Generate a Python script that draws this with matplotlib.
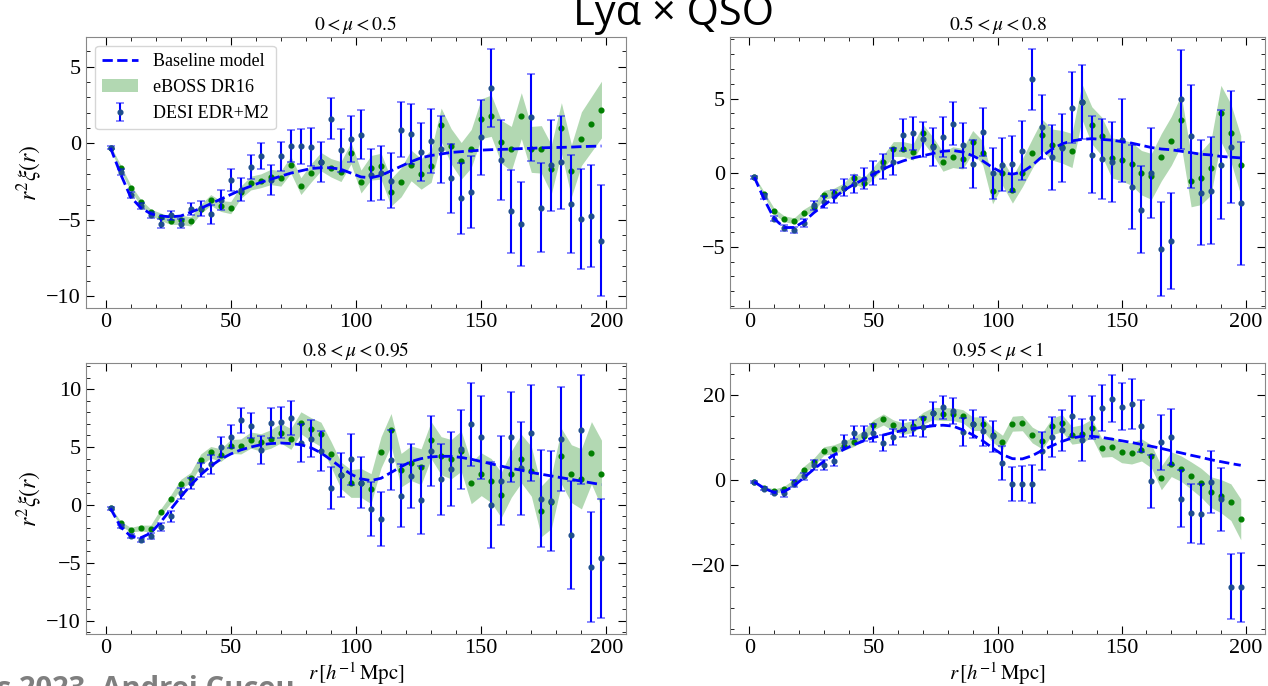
import matplotlib.pyplot as plt
from matplotlib.ticker import MultipleLocator, AutoMinorLocator

plt.rcParams['font.family'] = 'Liberation Serif'
plt.rcParams['mathtext.fontset'] = 'stix'

# separation bins (h^-1 Mpc)
r = list(range(2, 200, 4))

titles = [r'$0 < \mu < 0.5$', r'$0.5 < \mu < 0.8$', r'$0.8 < \mu < 0.95$', r'$0.95 < \mu < 1$']

# ---- 0 < mu < 0.5
desi1 = [-0.3, -1.9, -3.4, -4.1, -4.7, -5.25, -4.7, -5.25, -4.3, -4.25,
         -4.65, -3.7, -2.4, -3.05, -1.55, -0.85, -2.4, -0.85, -0.2, -0.2,
         -0.25, -1.25, 1.6, -0.45, 0.3, 0.55, -2.05, -1.95, -2.45, 0.87,
         0.6, -0.55, 0.15, -0.4, -2.3, -3.6, -3.15, 0.4, 3.6, -1.1,
         -4.45, -5.25, 1.7, -4.2, -1.45, -1.25, -3.95, -4.95, -4.75, -6.35]
desi1_err = [0.1, 0.2, 0.2, 0.2, 0.2, 0.3, 0.3, 0.3, 0.4, 0.5,
             0.6, 0.65, 0.7, 0.75, 0.8, 0.85, 1.0, 0.95, 1.05, 1.15,
             1.25, 1.3, 1.35, 1.4, 1.5, 1.6, 1.7, 1.75, 1.8, 1.8,
             1.95, 1.9, 2.1, 2.2, 2.25, 2.3, 2.35, 2.45, 2.55, 2.6,
             2.7, 2.75, 2.85, 2.9, 3.0, 3.05, 3.2, 3.25, 3.35, 3.6]
eboss1 = [-0.3, -1.6, -2.9, -3.85, -4.5, -4.8, -5.05, -5.0, -5.1, -4.3,
          -3.7, -4.1, -4.2, -3.2, -2.6, -2.45, -2.2, -2.3, -1.4, -2.8,
          -1.95, -1.2, -1.6, -1.85, -0.65, -2.5, -1.6, -1.5, -3.2, -2.55,
          -1.45, -2.0, -1.5, 1.2, -0.2, -1.15, -0.35, 1.6, 1.8, 0.1,
          -0.35, 1.8, -0.4, -0.4, -1.7, 1.0, -1.8, 0.3, 1.25, 2.2]
eboss1_err = [0.15, 0.2, 0.2, 0.2, 0.2, 0.25, 0.25, 0.3, 0.3, 0.3,
              0.35, 0.35, 0.4, 0.4, 0.45, 0.45, 0.5, 0.5, 0.55, 0.55,
              0.6, 0.6, 0.6, 0.65, 0.7, 0.75, 0.8, 0.85, 0.9, 0.95,
              1.0, 1.0, 1.05, 1.1, 1.15, 1.2, 1.25, 1.3, 1.35, 1.4,
              1.45, 1.5, 1.5, 1.55, 1.6, 1.65, 1.7, 1.75, 1.8, 1.85]
model1 = [-0.3, -2.0, -3.5, -4.2, -4.6, -4.75, -4.8, -4.75, -4.5, -4.25,
          -3.95, -3.65, -3.35, -3.05, -2.8, -2.55, -2.35, -2.15, -1.95, -1.8,
          -1.65, -1.6, -1.6, -1.7, -1.95, -2.2, -2.25, -2.1, -1.8, -1.5,
          -1.2, -0.95, -0.8, -0.7, -0.6, -0.55, -0.5, -0.45, -0.42, -0.4,
          -0.38, -0.35, -0.33, -0.3, -0.28, -0.27, -0.25, -0.22, -0.2, -0.18]

# ---- 0.5 < mu < 0.8
desi2 = [-0.3, -1.6, -3.1, -3.75, -3.85, -3.4, -2.2, -2.0, -1.6, -1.0,
         -0.75, -0.4, 0.0, 0.4, 0.75, 2.55, 2.65, 2.25, 1.75, 2.4,
         3.3, 1.85, 0.6, 2.75, -0.05, 0.55, 0.6, 1.5, 6.3, 3.1,
         1.05, 1.65, 4.4, 4.8, 1.2, 0.95, 0.7, 2.2, -0.95, -2.5,
         0.0, -5.15, -4.6, 4.95, 2.45, -1.35, -1.2, 0.55, 1.75, -2.05]
desi2_err = [0.1, 0.15, 0.15, 0.2, 0.2, 0.25, 0.3, 0.4, 0.45, 0.55,
             0.6, 0.7, 0.8, 0.85, 0.9, 1.05, 1.1, 1.2, 1.3, 1.35,
             1.45, 1.5, 1.6, 1.65, 1.75, 1.8, 1.9, 2.0, 2.05, 2.15,
             2.2, 2.3, 2.4, 2.5, 2.6, 2.7, 2.7, 2.8, 2.85, 2.95,
             3.05, 3.15, 3.25, 3.35, 3.45, 3.55, 3.6, 3.7, 3.8, 4.15]
eboss2 = [-0.3, -1.45, -2.6, -3.1, -3.25, -2.7, -2.3, -1.5, -1.35, -1.0,
          -0.35, -0.7, 0.0, 0.75, 1.6, 1.6, 1.4, 2.65, 1.8, 0.75,
          1.05, 0.95, 2.1, 1.35, -1.25, 0.0, -1.15, 0.0, 1.3, 2.55,
          1.9, 1.75, 1.5, 4.8, 3.2, 2.45, 1.0, 0.85, 0.6, 0.0,
          -0.25, 1.05, 2.15, 3.55, -0.55, -0.35, 0.35, 4.0, 2.7, 0.5]
eboss2_err = [0.1, 0.15, 0.2, 0.2, 0.2, 0.25, 0.25, 0.3, 0.3, 0.3,
              0.35, 0.35, 0.4, 0.45, 0.5, 0.5, 0.55, 0.6, 0.6, 0.65,
              0.7, 0.7, 0.75, 0.8, 0.85, 0.85, 0.9, 0.95, 1.0, 1.05,
              1.05, 1.1, 1.15, 1.2, 1.25, 1.3, 1.35, 1.4, 1.45, 1.5,
              1.55, 1.6, 1.65, 1.7, 1.75, 1.8, 1.85, 1.9, 1.95, 2.0]
model2 = [-0.3, -1.8, -3.1, -3.7, -3.7, -3.3, -2.7, -2.2, -1.7, -1.2,
          -0.8, -0.45, -0.1, 0.25, 0.55, 0.8, 1.0, 1.15, 1.3, 1.45,
          1.5, 1.4, 1.15, 0.8, 0.35, 0.0, -0.1, 0.05, 0.5, 1.1,
          1.6, 1.95, 2.15, 2.25, 2.3, 2.25, 2.2, 2.1, 2.0, 1.85,
          1.7, 1.6, 1.55, 1.45, 1.35, 1.25, 1.2, 1.1, 1.05, 1.0]

# ---- 0.8 < mu < 0.95
desi3 = [-0.3, -1.85, -2.7, -3.05, -2.7, -1.9, -1.0, 1.0, 1.85, 3.0,
         3.5, 5.0, 5.9, 7.3, 6.85, 4.75, 7.1, 7.15, 7.5, 5.35,
         5.7, 4.65, 1.45, 2.55, 3.95, 1.9, -0.35, -1.2, 3.85, 0.8,
         2.5, 0.45, 4.65, 2.2, 3.1, 4.8, 6.95, 5.85, 0.0, 2.1,
         5.85, 3.15, 6.2, 0.55, 0.35, 5.7, -2.6, 6.5, -5.35, -4.6]
desi3_err = [0.1, 0.15, 0.15, 0.2, 0.25, 0.35, 0.45, 0.45, 0.5, 0.6,
             0.8, 0.9, 1.0, 1.05, 1.1, 1.2, 1.3, 1.35, 1.45, 1.6,
             1.6, 1.7, 1.8, 1.9, 2.2, 2.2, 2.3, 2.35, 2.6, 2.7,
             2.8, 2.95, 3.05, 3.1, 3.2, 3.4, 3.55, 3.6, 3.7, 3.85,
             3.9, 4.05, 4.15, 4.2, 4.35, 4.5, 4.7, 4.7, 4.75, 5.15]
eboss3 = [-0.3, -1.6, -2.15, -2.0, -2.05, -0.65, 0.5, 1.8, 2.35, 3.9,
          4.55, 4.3, 5.05, 5.05, 5.6, 5.4, 5.7, 6.2, 5.7, 7.1,
          6.55, 6.1, 4.4, 2.55, 1.85, 1.9, 1.4, 4.55, 6.5, 3.0,
          3.6, 3.3, 5.6, 4.25, 3.95, 4.65, 1.9, 2.65, 2.1, 0.85,
          2.65, 4.0, 2.9, -0.55, 0.25, 4.2, 2.7, 2.25, 4.5, 2.7]
eboss3_err = [0.15, 0.2, 0.2, 0.25, 0.3, 0.3, 0.35, 0.4, 0.45, 0.5,
              0.5, 0.55, 0.6, 0.65, 0.7, 0.75, 0.8, 0.85, 0.9, 0.95,
              1.0, 1.05, 1.1, 1.15, 1.2, 1.25, 1.3, 1.35, 1.4, 1.45,
              1.5, 1.55, 1.6, 1.65, 1.7, 1.75, 1.8, 1.85, 1.9, 1.95,
              2.0, 2.1, 2.15, 2.2, 2.3, 2.4, 2.5, 2.6, 2.7, 2.9]
model3 = [-0.3, -1.9, -2.7, -2.85, -2.45, -1.5, -0.4, 0.7, 1.7, 2.6,
          3.35, 3.95, 4.4, 4.75, 5.0, 5.2, 5.3, 5.35, 5.3, 5.2,
          4.95, 4.5, 3.9, 3.25, 2.65, 2.25, 2.1, 2.3, 2.8, 3.3,
          3.75, 4.0, 4.15, 4.2, 4.2, 4.1, 3.95, 3.75, 3.55, 3.35,
          3.15, 3.0, 2.8, 2.65, 2.5, 2.35, 2.2, 2.05, 1.9, 1.75]

# ---- 0.95 < mu < 1
desi4 = [-0.45, -2.0, -2.95, -3.1, -0.85, 0.95, 3.5, 3.6, 4.6, 9.05,
         11.15, 10.9, 11.0, 8.75, 10.15, 12.1, 12.3, 12.45, 15.75, 17.15,
         16.3, 11.35, 13.25, 11.45, 10.3, 4.1, -1.0, -0.85, -0.85, 6.9,
         10.1, 11.7, 15.0, 9.5, 14.7, 17.05, 19.15, 17.2, 17.8, 12.6,
         -0.25, 8.85, 10.05, -4.35, -7.8, -7.95, -0.45, -4.5, -25.0, -25.15]
desi4_err = [0.2, 0.3, 0.4, 0.85, 0.8, 0.85, 1.15, 1.1, 1.25, 1.45,
             1.55, 1.75, 2.1, 1.85, 1.9, 1.95, 1.9, 2.4, 2.7, 2.7,
             3.0, 3.35, 3.3, 3.45, 3.7, 4.0, 4.0, 4.15, 4.4, 4.45,
             4.65, 4.75, 4.75, 4.9, 5.05, 5.4, 5.45, 5.5, 5.9, 6.1,
             6.2, 6.4, 6.55, 6.65, 7.0, 7.0, 7.3, 7.35, 7.65, 8.05]
eboss4 = [-0.45, -1.85, -2.55, -2.0, -0.45, 2.5, 4.3, 6.85, 7.3, 8.1,
          9.0, 10.45, 13.0, 14.25, 12.85, 12.1, 12.6, 14.55, 15.65, 15.5,
          15.5, 15.0, 13.25, 13.25, 10.6, 8.85, 13.25, 13.4, 10.6, 9.25,
          12.6, 13.4, 10.5, 10.9, 12.2, 7.6, 7.85, 6.5, 6.3, 7.1,
          5.6, 0.55, 3.75, 2.7, 1.1, -0.6, -2.8, -3.75, -5.15, -9.2]
eboss4_err = [0.3, 0.4, 0.5, 0.6, 0.7, 0.8, 0.9, 1.0, 1.0, 1.1,
              1.1, 1.2, 1.2, 1.3, 1.3, 1.35, 1.4, 1.4, 1.45, 1.5,
              1.5, 1.55, 1.6, 1.6, 1.65, 1.7, 1.75, 1.8, 1.85, 1.9,
              1.95, 2.0, 2.05, 2.1, 2.15, 2.2, 2.3, 2.4, 2.5, 2.6,
              2.7, 2.8, 2.9, 3.0, 3.2, 3.4, 3.6, 3.9, 4.3, 4.8]
model4 = [-0.4, -1.9, -2.9, -2.7, -1.3, 0.6, 2.6, 4.4, 5.9, 7.2,
          8.3, 9.2, 10.0, 10.6, 11.2, 11.7, 12.1, 12.45, 12.75, 12.9,
          12.7, 11.8, 10.65, 9.25, 7.55, 6.0, 5.05, 5.0, 5.75, 7.0,
          8.1, 9.1, 9.9, 10.3, 10.3, 10.05, 9.65, 9.25, 8.85, 8.4,
          7.95, 7.45, 6.9, 6.4, 5.85, 5.35, 4.8, 4.35, 3.9, 3.5]

desi = [desi1, desi2, desi3, desi4]
desi_err = [desi1_err, desi2_err, desi3_err, desi4_err]
eboss = [eboss1, eboss2, eboss3, eboss4]
eboss_err = [eboss1_err, eboss2_err, eboss3_err, eboss4_err]
model = [model1, model2, model3, model4]
ymajor = [5, 5, 5, 20]

fig = plt.figure(figsize=(12.68, 6.86), dpi=100)
rects = [[0.0678, 0.551, 0.4259, 0.3955],
         [0.5757, 0.551, 0.422, 0.3955],
         [0.0678, 0.0758, 0.4259, 0.395],
         [0.5757, 0.0758, 0.422, 0.395]]

for i in range(4):
    ax = fig.add_axes(rects[i])
    lo = [v - e for v, e in zip(eboss[i], eboss_err[i])]
    hi = [v + e for v, e in zip(eboss[i], eboss_err[i])]
    ax.plot(r, model[i], '--', color='blue', lw=2, label='Baseline model', zorder=4)
    ax.fill_between(r, lo, hi, color='green', alpha=0.3, lw=0, label='eBOSS DR16', zorder=1)
    ax.plot(r, eboss[i], 'o', color='green', ms=3.4, zorder=2.5)
    eb = ax.errorbar(r, desi[i], yerr=desi_err[i], fmt='o', ms=3.4, color='blue',
                     mfc='#1f4e8c', mec='#1f4e8c', elinewidth=1.5, capsize=3,
                     capthick=1.2, label='DESI EDR+M2', zorder=3)
    for cap in eb[1]:
        cap.set_alpha(0.55)

    ax.set_title(titles[i], fontsize=14, pad=5)
    ax.xaxis.set_major_locator(MultipleLocator(50))
    ax.xaxis.set_minor_locator(AutoMinorLocator())
    ax.yaxis.set_major_locator(MultipleLocator(ymajor[i]))
    ax.yaxis.set_minor_locator(AutoMinorLocator())
    ax.tick_params(which='both', direction='in', top=True, right=True, labelsize=16)
    ax.tick_params(which='major', length=6)
    ax.tick_params(which='minor', length=3)
    for s in ax.spines.values():
        s.set_color('#888888')
    if i % 2 == 0:
        ax.set_ylabel(r'$r^2\xi(r)$', fontsize=17, labelpad=2)
    if i >= 2:
        ax.set_xlabel(r'$r\,[h^{-1}\,\mathrm{Mpc}]$', fontsize=15, labelpad=2,
                      bbox=dict(facecolor='white', edgecolor='none', pad=1))
    if i == 0:
        ax.legend(loc='upper left', fontsize=13)

fig.text(-0.002, -0.016, 's 2023, Andrei Cuceu', fontsize=21, fontweight='bold',
         color='#7f7f7f', family='Open Sans', va='baseline', zorder=0)
fig.text(0.531, 0.9636, 'Lyα × QSO', fontsize=30, family='Open Sans',
         ha='center', va='baseline')

fig.savefig('out.png', dpi=100)
